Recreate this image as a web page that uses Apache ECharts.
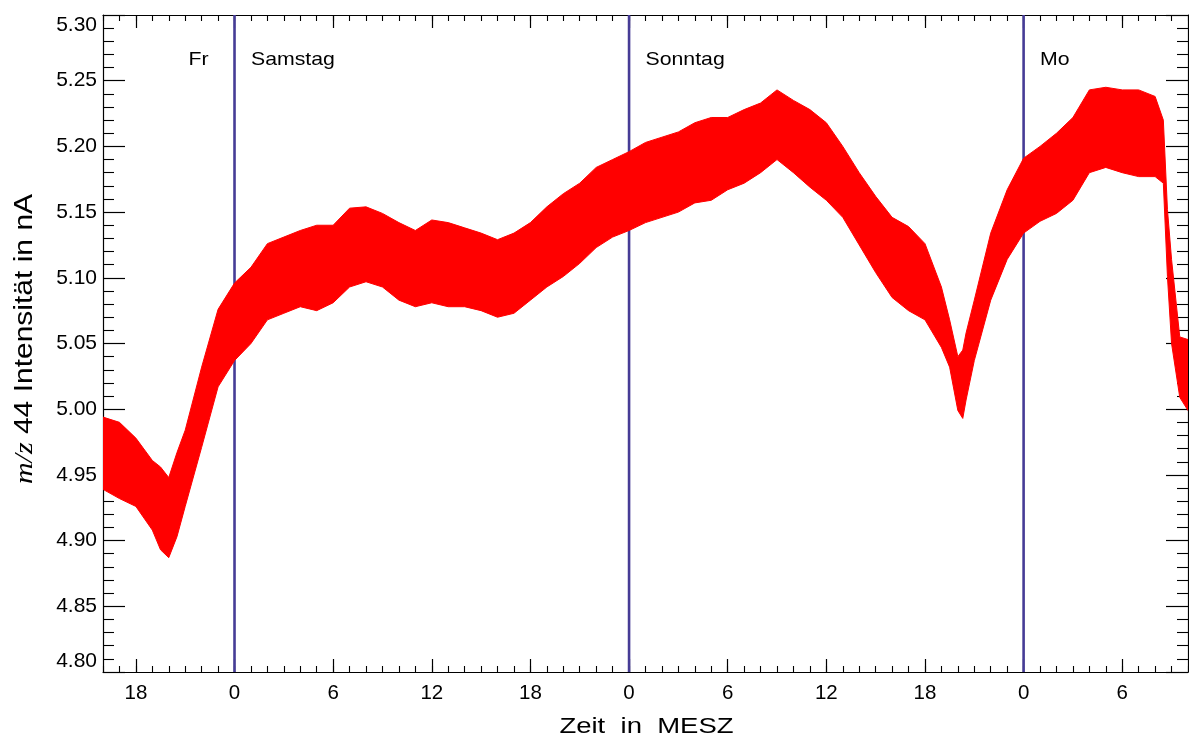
<!DOCTYPE html>
<html>
<head>
<meta charset="utf-8">
<script src="https://cdn.jsdelivr.net/npm/echarts@6/dist/echarts.min.js"></script>
<style>
html,body{margin:0;padding:0;background:#fff;}
#c{width:1189px;height:742px;}
</style>
</head>
<body>
<div id="c"></div>
<script>
// Time in hours relative to Saturday 00:00 (MESZ)
const hours = [-8,-7,-6,-5,-4.5,-4,-3.5,-3,-2,-1,
  0,1,2,3,4,5,6,7,8,9,10,11,12,13,14,15,16,17,18,19,20,21,22,23,24,25,26,27,28,29,30,31,32,33,34,35,36,37,38,39,40,41,42,43,
  43.5,44,44.3,44.5,45,46,47,48,49,50,51,52,53,54,55,56,56.5,56.75,57,57.5,58];
// upper envelope of the noisy m/z 44 signal (nA)
const upper = [4.994,4.990,4.978,4.961,4.956,4.948,4.967,4.984,5.032,5.076,
  5.096,5.108,5.126,5.131,5.136,5.140,5.140,5.153,5.154,5.149,
  5.142,5.136,5.144,5.142,5.138,5.134,5.129,5.134,5.142,5.154,
  5.164,5.172,5.184,5.190,5.196,5.203,5.207,5.211,5.218,5.222,
  5.222,5.228,5.233,5.243,5.235,5.228,5.218,5.200,5.180,5.162,
  5.146,5.139,5.126,5.093,
  5.068,5.040,5.045,5.058,
  5.083,5.134,5.167,5.191,5.200,5.210,5.222,5.243,5.245,5.243,5.243,5.238,
  5.220,5.152,5.114,5.055,5.053];
// lower envelope
const lower = [4.939,4.932,4.926,4.908,4.893,4.887,4.903,4.926,4.971,5.017,
  5.037,5.050,5.068,5.073,5.078,5.075,5.081,5.093,5.097,5.093,
  5.083,5.078,5.081,5.078,5.078,5.075,5.070,5.073,5.083,5.093,
  5.101,5.111,5.123,5.131,5.136,5.142,5.146,5.150,5.157,5.159,
  5.167,5.172,5.180,5.190,5.180,5.169,5.159,5.146,5.125,5.104,
  5.085,5.075,5.068,5.047,
  5.032,4.999,4.993,5.007,
  5.037,5.083,5.114,5.134,5.143,5.149,5.159,5.180,5.184,5.180,5.177,5.177,
  5.172,5.101,5.050,5.009,4.999];

const dayStarts = [0, 24, 48];
const dayNames = ['Fr', 'Samstag', 'Sonntag', 'Mo'];
const dayNameHours = [-2.8, 1, 25, 49];
const dayNameLevel = 5.2658;
const majorHourTicks = [-6,0,6,12,18,24,30,36,42,48,54];
const xRange = [-8, 58];
const yRange = [4.80, 5.30];
const yStep = 0.05;
const xTitle = 'Zeit  in  MESZ';
const yTitleRich = '{mz|m/z} 44 Intensität in nA';

const bandRows = hours.map((h, i) => [h, upper[i], lower[i]]);

const chart = echarts.init(document.getElementById('c'), null, {renderer: 'canvas'});

const labelFont = 'Liberation Sans, Arial, Helvetica, sans-serif';

function xAxisMajor(pos, withLabels) {
  return {
    type: 'value', position: pos, min: xRange[0], max: xRange[1],
    axisLine: {show: true, onZero: false, lineStyle: {color: '#000', width: 1.2}},
    axisTick: {show: true, inside: true, length: 13, customValues: majorHourTicks,
      lineStyle: {color: '#000', width: 1.2}},
    axisLabel: withLabels ? {show: true, customValues: majorHourTicks, margin: 11,
      fontSize: 20.5, color: '#000', fontFamily: labelFont,
      formatter: v => String(((v % 24) + 24) % 24)} : {show: false},
    splitLine: {show: false}
  };
}
function xAxisMinor(pos) {
  return {
    type: 'value', position: pos, min: xRange[0], max: xRange[1], interval: 1,
    axisLine: {show: false, onZero: false},
    axisTick: {show: true, inside: true, length: 6, lineStyle: {color: '#000', width: 1.1}},
    axisLabel: {show: false},
    splitLine: {show: false}
  };
}
function yAxisDef(pos, withLabels) {
  return {
    type: 'value', position: pos, min: yRange[0], max: yRange[1], interval: yStep,
    axisLine: {show: true, onZero: false, lineStyle: {color: '#000', width: 1.2}},
    axisTick: {show: true, inside: true, length: 22, lineStyle: {color: '#000', width: 1.2}},
    minorTick: {show: true, splitNumber: 5, length: 11, lineStyle: {color: '#000', width: 1.1}},
    axisLabel: withLabels ? {show: true, margin: 6, fontSize: 21, color: '#000',
      fontFamily: labelFont, formatter: v => v.toFixed(2),
      verticalAlignMinLabel: 'bottom', verticalAlignMaxLabel: 'top'} : {show: false},
    splitLine: {show: false}
  };
}

chart.setOption({
  animation: false,
  backgroundColor: '#fff',
  grid: {left: 103, right: 1, top: 15, bottom: 70, containLabel: false},
  xAxis: [xAxisMajor('bottom', true), xAxisMinor('bottom'), xAxisMajor('top', false), xAxisMinor('top')],
  yAxis: [yAxisDef('left', true), yAxisDef('right', false)],
  series: [
    {
      type: 'custom', name: 'days', coordinateSystem: 'cartesian2d',
      xAxisIndex: 0, yAxisIndex: 0, z: 1, silent: true,
      data: dayStarts.map(h => [h]),
      encode: {x: 0},
      renderItem: function (params, api) {
        const h = api.value(0);
        const p0 = api.coord([h, yRange[0]]);
        const p1 = api.coord([h, yRange[1]]);
        return {type: 'line', shape: {x1: p0[0], y1: p0[1], x2: p1[0], y2: p1[1]},
          style: {stroke: '#463c96', lineWidth: 2.6}};
      }
    },
    {
      type: 'custom', name: 'm/z 44', coordinateSystem: 'cartesian2d',
      xAxisIndex: 0, yAxisIndex: 0, z: 2, silent: true, clip: true,
      data: bandRows,
      encode: {x: 0, y: [1, 2]},
      renderItem: function (params, api) {
        if (params.dataIndex !== 0) return null;
        const pts = [];
        for (let i = 0; i < bandRows.length; i++) pts.push(api.coord([bandRows[i][0], bandRows[i][1]]));
        for (let i = bandRows.length - 1; i >= 0; i--) pts.push(api.coord([bandRows[i][0], bandRows[i][2]]));
        return {type: 'polygon', shape: {points: pts},
          style: {fill: '#ff0000', stroke: '#ff0000', lineWidth: 1}};
      }
    }
  ]
});

// annotation texts, positioned through the chart's own scales
const texts = [];
dayNames.forEach((name, i) => {
  const p = chart.convertToPixel({xAxisIndex: 0, yAxisIndex: 0}, [dayNameHours[i], dayNameLevel]);
  texts.push({type: 'text', x: p[0], y: p[1], scaleX: 1.12, z: 10,
    style: {text: name, fontSize: 19, fontFamily: labelFont, fill: '#000',
      align: 'left', verticalAlign: 'middle'}});
});
const grid = chart.getModel().getComponent('grid', 0).coordinateSystem.getRect();
texts.push({type: 'text', x: grid.x + grid.width / 2 + 1, y: 727, scaleX: 1.25, z: 10,
  style: {text: xTitle, fontSize: 22, fontFamily: labelFont, fill: '#000',
    align: 'center', verticalAlign: 'middle'}});
texts.push({type: 'text', x: 25, y: 339, rotation: Math.PI / 2, scaleX: 1.2, z: 10,
  style: {text: yTitleRich, fontSize: 25, fontFamily: labelFont, fill: '#000',
    align: 'center', verticalAlign: 'middle',
    rich: {mz: {fontFamily: 'Liberation Serif, Times New Roman, serif', fontStyle: 'italic', fontSize: 25, fill: '#000'}}}});
chart.setOption({graphic: texts});
</script>
</body>
</html>
